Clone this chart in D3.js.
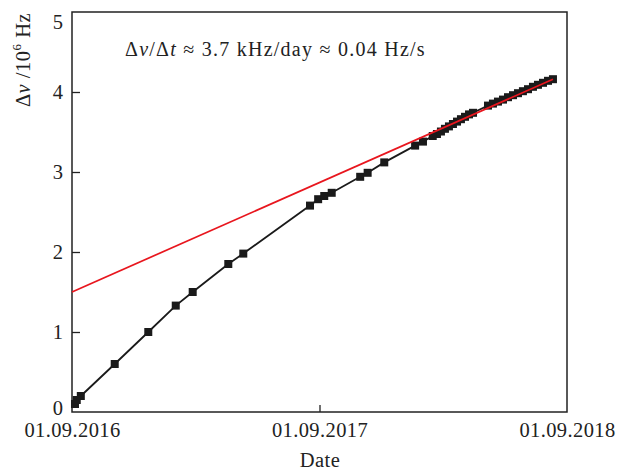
<!DOCTYPE html>
<html><head><meta charset="utf-8">
<script src="https://cdn.jsdelivr.net/npm/d3@7/dist/d3.min.js"></script>
<style>body{margin:0;background:#fff}svg{display:block}text{font-family:"Liberation Serif","DejaVu Serif",serif;fill:#222}</style>
</head><body><svg id="c" width="627" height="472"></svg>
<script>
// days since 01.09.2016
const dayOffsets = [4.4,7,13,63,112.5,153,178,230.5,252.6,351,363,372,383,425,436,460.5,506,517.6,532,
  538.2,544.1,550,555.9,561.8,567.8,573.6,579.6,585.5,591.4,
  613.5,620.8,628.2,635.6,643,650.4,657.7,665,672.5,679.8,687.2,694.6,702,709.3];
const deltaNu = [0.10,0.15,0.20,0.60,1.00,1.33,1.50,1.85,1.98,2.58,2.66,2.70,2.74,2.94,2.99,3.12,3.33,3.38,3.45,
  3.475,3.506,3.54,3.57,3.60,3.63,3.66,3.69,3.72,3.74,
  3.83,3.855,3.88,3.905,3.935,3.96,3.985,4.01,4.035,4.065,4.09,4.115,4.14,4.16];
const fitDays = [0,709.3];
const fitValues = [1.50,4.16];
const yTicks = [0,1,2,3,4,5];
const xTickDates = ["2016-09-01","2017-09-01","2018-09-01"];
const xTickLabels = ["01.09.2016","01.09.2017","01.09.2018"];

const start = new Date(2016,8,1);
const toDate = d => new Date(start.getTime() + d*86400000);
const svg = d3.select("#c");
const L=72,R=567,T=12,B=412;
const x = d3.scaleTime().domain([start,new Date(2018,8,1)]).range([L,R]);
const y = d3.scaleLinear().domain([0,5]).range([B,T]);

// frame
svg.append("rect").attr("x",L).attr("y",T).attr("width",R-L).attr("height",B-T)
  .attr("fill","none").attr("stroke","#222").attr("stroke-width",1.5);

// y axis ticks
const ya = svg.append("g").attr("transform",`translate(${L},0)`)
  .call(d3.axisLeft(y).tickValues(yTicks).tickSize(-8).tickPadding(9).tickFormat(d3.format("d")));
ya.select(".domain").remove();
ya.selectAll("line").attr("stroke","#222").attr("stroke-width",1.3);
ya.selectAll("text").attr("font-size",20.5).attr("fill","#222")
  .attr("dy",(d)=> d===5? "0.8em" : d===0 ? "0.1em" : "0.32em");
ya.selectAll(".tick").filter(d=>d===0||d===5).select("line").remove();

// x axis
const xDates = xTickDates.map(s=>{const p=s.split("-");return new Date(+p[0],+p[1]-1,+p[2]);});
const xa = svg.append("g").attr("transform",`translate(0,${B})`)
  .call(d3.axisBottom(x).tickValues(xDates).tickSize(-7).tickPadding(10).tickFormat((d,i)=>xTickLabels[i]));
xa.select(".domain").remove();
xa.selectAll("line").attr("stroke","#222").attr("stroke-width",1.3);
xa.selectAll(".tick").filter((d,i)=>i!==1).select("line").remove();
xa.selectAll("text").attr("font-size",20.5).attr("letter-spacing",0.4).attr("fill","#222");

// data line
const pts = dayOffsets.map((d,i)=>[toDate(d),deltaNu[i]]);
svg.append("path").datum(pts).attr("fill","none").attr("stroke","#1a1a1a").attr("stroke-width",1.8)
  .attr("d",d3.line().x(d=>x(d[0])).y(d=>y(d[1])));
svg.append("g").selectAll("rect").data(pts).join("rect")
  .attr("x",d=>x(d[0])-4).attr("y",d=>y(d[1])-4).attr("width",8).attr("height",8).attr("fill","#1a1a1a");

// fit line
const fit = fitDays.map((d,i)=>[toDate(d),fitValues[i]]);
svg.append("path").datum(fit).attr("fill","none").attr("stroke","#e8161e").attr("stroke-width",1.7)
  .attr("d",d3.line().x(d=>x(d[0])).y(d=>y(d[1])));

// annotation
const ann = svg.append("text").attr("x",125).attr("y",56).attr("font-size",20).attr("letter-spacing",1.25);
ann.append("tspan").text("Δ");
ann.append("tspan").attr("font-style","italic").text("ν");
ann.append("tspan").text("/Δ");
ann.append("tspan").attr("font-style","italic").text("t");
ann.append("tspan").text(" ≈ 3.7 kHz/day ≈ 0.04 Hz/s");

// axis labels
svg.append("text").attr("x",320).attr("y",467).attr("text-anchor","middle").attr("font-size",20.5).attr("letter-spacing",0.4).text("Date");
const yl = svg.append("text").attr("transform","translate(30,60) rotate(-90)").attr("text-anchor","middle").attr("font-size",20.5).attr("letter-spacing",0.5);
yl.append("tspan").text("Δ");
yl.append("tspan").attr("font-style","italic").text("ν");
yl.append("tspan").text(" /10");
yl.append("tspan").attr("font-size",13).attr("dy",-9).text("6");
yl.append("tspan").attr("dy",9).text(" Hz");
</script></body></html>
